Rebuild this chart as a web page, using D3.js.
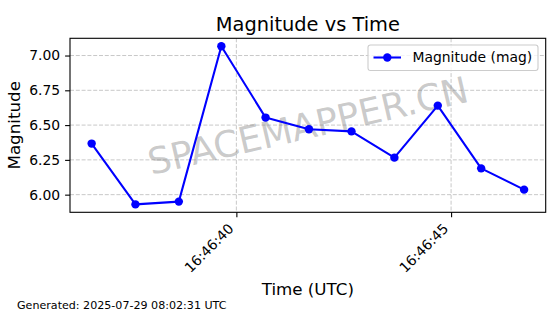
<!DOCTYPE html>
<html>
<head>
<meta charset="utf-8">
<script src="https://cdn.jsdelivr.net/npm/d3@7"></script>
<style>
  body { margin: 0; background: #fff; }
  svg { display: block; font-family: "DejaVu Sans", sans-serif; }
</style>
</head>
<body>
<div id="chart"></div>
<script>
// magnitude readings, times in seconds after 16:46:00 UTC
const seconds = [36.63, 37.65, 38.66, 39.65, 40.68, 41.69, 42.68, 43.68, 44.69, 45.70, 46.70];
const magnitudes = [6.367, 5.930, 5.950, 7.067, 6.554, 6.470, 6.455, 6.266, 6.640, 6.189, 6.036];
const xTickSeconds = [40, 45];
const yTicks = [6.00, 6.25, 6.50, 6.75, 7.00];

const base = Date.UTC(2025, 6, 29, 16, 46, 0);
const toDate = s => new Date(base + s * 1000);

const data = seconds.map((s, i) => ({ t: toDate(s), v: magnitudes[i] }));

const width = 560, height = 314;
const margin = { left: 70, top: 38.3, right: 560 - 545.7, bottom: 314 - 212.3 };
const innerW = width - margin.left - margin.right;
const innerH = height - margin.top - margin.bottom;

const svg = d3.select("#chart").append("svg")
    .attr("width", width)
    .attr("height", height);

// matplotlib-like 5% margins
function padded(ext) {
    const p = (ext[1] - ext[0]) * 0.05;
    return [ext[0] - p, ext[1] + p];
}
const xExt = padded(d3.extent(data, d => +d.t));
const yExt = padded(d3.extent(magnitudes));

const x = d3.scaleUtc()
    .domain([new Date(xExt[0]), new Date(xExt[1])])
    .range([0, innerW]);
const y = d3.scaleLinear()
    .domain(yExt)
    .range([innerH, 0]);

const g = svg.append("g")
    .attr("transform", `translate(${margin.left},${margin.top})`);

// grid
g.append("g")
    .selectAll("line")
    .data(xTickSeconds)
    .join("line")
    .attr("x1", d => x(toDate(d))).attr("x2", d => x(toDate(d)))
    .attr("y1", 0).attr("y2", innerH)
    .attr("stroke", "#b0b0b0").attr("stroke-opacity", 0.7)
    .attr("stroke-width", 1).attr("stroke-dasharray", "4,1.8");
g.append("g")
    .selectAll("line")
    .data(yTicks)
    .join("line")
    .attr("x1", 0).attr("x2", innerW)
    .attr("y1", d => y(d)).attr("y2", d => y(d))
    .attr("stroke", "#b0b0b0").attr("stroke-opacity", 0.7)
    .attr("stroke-width", 1).attr("stroke-dasharray", "4,1.8");

// watermark
g.append("text")
    .attr("transform", `translate(${innerW / 2},${innerH / 2}) rotate(-13)`)
    .attr("text-anchor", "middle")
    .attr("dy", "0.36em")
    .attr("font-size", 36.5)
    .attr("fill", "#808080")
    .attr("fill-opacity", 0.42)
    .text("SPACEMAPPER.CN");

// line + markers
g.append("path")
    .datum(data)
    .attr("fill", "none")
    .attr("stroke", "#0000ff")
    .attr("stroke-width", 2.08)
    .attr("stroke-linejoin", "round")
    .attr("d", d3.line().x(d => x(d.t)).y(d => y(d.v)));

g.selectAll("circle.pt")
    .data(data)
    .join("circle")
    .attr("class", "pt")
    .attr("cx", d => x(d.t))
    .attr("cy", d => y(d.v))
    .attr("r", 4.2)
    .attr("fill", "#0000ff");

// axes
const xAxis = g.append("g")
    .attr("transform", `translate(0,${innerH})`)
    .call(d3.axisBottom(x)
        .tickValues(xTickSeconds.map(toDate))
        .tickFormat(d3.utcFormat("%H:%M:%S"))
        .tickSize(4.9)
        .tickSizeOuter(0));
xAxis.select(".domain").remove();
xAxis.selectAll(".tick line").attr("stroke", "#000").attr("stroke-width", 1.1);
xAxis.selectAll(".tick text")
    .attr("font-size", 13.9)
    .attr("fill", "#000")
    .attr("font-family", "DejaVu Sans")
    .attr("text-anchor", "end")
    .attr("x", -2.3).attr("y", 17.2).attr("dy", null)
    .attr("transform", "rotate(-45,-2.3,17.2)");

const yAxis = g.append("g")
    .call(d3.axisLeft(y)
        .tickValues(yTicks)
        .tickFormat(d3.format(".2f"))
        .tickSize(4.9)
        .tickPadding(4.9)
        .tickSizeOuter(0));
yAxis.select(".domain").remove();
yAxis.selectAll(".tick line").attr("stroke", "#000").attr("stroke-width", 1.1);
yAxis.selectAll(".tick text")
    .attr("font-size", 13.9)
    .attr("fill", "#000")
    .attr("font-family", "DejaVu Sans");

// frame
g.append("rect")
    .attr("width", innerW).attr("height", innerH)
    .attr("fill", "none")
    .attr("stroke", "#000")
    .attr("stroke-width", 1.1);

// legend
const leg = g.append("g").attr("transform", `translate(${368 - margin.left},${45 - margin.top})`);
leg.append("rect")
    .attr("width", 170).attr("height", 25.5)
    .attr("rx", 2.5)
    .attr("fill", "#fff").attr("fill-opacity", 0.8)
    .attr("stroke", "#cccccc").attr("stroke-width", 1.1);
leg.append("line")
    .attr("x1", 5.5).attr("x2", 33).attr("y1", 12.5).attr("y2", 12.5)
    .attr("stroke", "#0000ff").attr("stroke-width", 2.08);
leg.append("circle")
    .attr("cx", 19.3).attr("cy", 12.5).attr("r", 4.2)
    .attr("fill", "#0000ff");
leg.append("text")
    .attr("x", 44.5).attr("y", 17.3)
    .attr("font-size", 13.9)
    .text("Magnitude (mag)");

// titles
svg.append("text")
    .attr("x", margin.left + innerW / 2).attr("y", 30.5)
    .attr("text-anchor", "middle")
    .attr("font-size", 19.4)
    .text("Magnitude vs Time");

svg.append("text")
    .attr("x", margin.left + innerW / 2).attr("y", 294.5)
    .attr("text-anchor", "middle")
    .attr("font-size", 16.7)
    .text("Time (UTC)");

svg.append("text")
    .attr("transform", `translate(19.5,${margin.top + innerH / 2}) rotate(-90)`)
    .attr("text-anchor", "middle")
    .attr("font-size", 16.7)
    .text("Magnitude");

svg.append("text")
    .attr("x", 17).attr("y", 308.5)
    .attr("font-size", 11.1)
    .text("Generated: 2025-07-29 08:02:31 UTC");
</script>
</body>
</html>
